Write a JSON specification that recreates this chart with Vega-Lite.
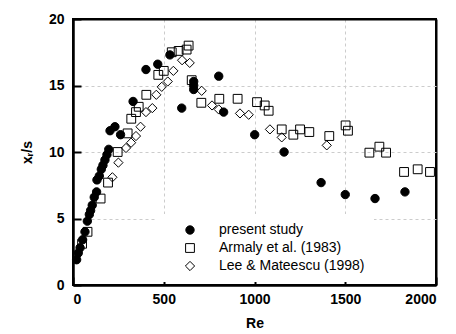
{
  "$schema": "https://vega.github.io/schema/vega-lite/v6.json",
  "width": 363,
  "height": 266,
  "autosize": "none",
  "padding": {"left": 73, "top": 19, "right": 20, "bottom": 49},
  "config": {
    "font": "Liberation Sans",
    "view": {"stroke": "black", "strokeWidth": 2},
    "legend": {
      "orient": "none",
      "legendX": 83,
      "legendY": 195,
      "fillColor": "white",
      "padding": 9,
      "labelFont": "Liberation Sans",
      "labelFontSize": 14,
      "labelColor": "black",
      "symbolStrokeWidth": 1,
      "symbolOffset": 18,
      "labelOffset": 22,
      "rowPadding": 4,
      "zindex": 3
    }
  },
  "data": {
    "values": [
      {"series": "present study", "Re": 20, "xs": 1.9},
      {"series": "present study", "Re": 29, "xs": 2.4},
      {"series": "present study", "Re": 39, "xs": 2.8},
      {"series": "present study", "Re": 53, "xs": 3.4},
      {"series": "present study", "Re": 66, "xs": 4.0},
      {"series": "present study", "Re": 79, "xs": 4.8},
      {"series": "present study", "Re": 90, "xs": 5.3},
      {"series": "present study", "Re": 97, "xs": 5.6},
      {"series": "present study", "Re": 106, "xs": 6.0},
      {"series": "present study", "Re": 117, "xs": 6.6},
      {"series": "present study", "Re": 130, "xs": 7.0},
      {"series": "present study", "Re": 132, "xs": 7.9},
      {"series": "present study", "Re": 145, "xs": 8.2},
      {"series": "present study", "Re": 156, "xs": 8.7},
      {"series": "present study", "Re": 165, "xs": 9.0},
      {"series": "present study", "Re": 176, "xs": 9.4},
      {"series": "present study", "Re": 187, "xs": 9.8},
      {"series": "present study", "Re": 197, "xs": 10.2},
      {"series": "present study", "Re": 204, "xs": 11.6},
      {"series": "present study", "Re": 231, "xs": 11.9},
      {"series": "present study", "Re": 262, "xs": 11.3},
      {"series": "present study", "Re": 331, "xs": 13.8},
      {"series": "present study", "Re": 402, "xs": 16.2},
      {"series": "present study", "Re": 467, "xs": 16.6},
      {"series": "present study", "Re": 534, "xs": 17.3},
      {"series": "present study", "Re": 599, "xs": 13.3},
      {"series": "present study", "Re": 665, "xs": 15.3},
      {"series": "present study", "Re": 665, "xs": 15.0},
      {"series": "present study", "Re": 665, "xs": 14.7},
      {"series": "present study", "Re": 803, "xs": 15.7},
      {"series": "present study", "Re": 830, "xs": 13.0},
      {"series": "present study", "Re": 1001, "xs": 11.3},
      {"series": "present study", "Re": 1163, "xs": 10.0},
      {"series": "present study", "Re": 1367, "xs": 7.7},
      {"series": "present study", "Re": 1500, "xs": 6.8},
      {"series": "present study", "Re": 1664, "xs": 6.5},
      {"series": "present study", "Re": 1829, "xs": 7.0},
      {"series": "Armaly et al. (1983)", "Re": 50, "xs": 3.1},
      {"series": "Armaly et al. (1983)", "Re": 80, "xs": 4.0},
      {"series": "Armaly et al. (1983)", "Re": 152, "xs": 6.5},
      {"series": "Armaly et al. (1983)", "Re": 193, "xs": 7.7},
      {"series": "Armaly et al. (1983)", "Re": 246, "xs": 10.0},
      {"series": "Armaly et al. (1983)", "Re": 301, "xs": 11.4},
      {"series": "Armaly et al. (1983)", "Re": 321, "xs": 12.5},
      {"series": "Armaly et al. (1983)", "Re": 347, "xs": 13.0},
      {"series": "Armaly et al. (1983)", "Re": 362, "xs": 13.4},
      {"series": "Armaly et al. (1983)", "Re": 404, "xs": 14.3},
      {"series": "Armaly et al. (1983)", "Re": 470, "xs": 15.8},
      {"series": "Armaly et al. (1983)", "Re": 500, "xs": 16.1},
      {"series": "Armaly et al. (1983)", "Re": 544, "xs": 17.5},
      {"series": "Armaly et al. (1983)", "Re": 582, "xs": 17.6},
      {"series": "Armaly et al. (1983)", "Re": 626, "xs": 17.7},
      {"series": "Armaly et al. (1983)", "Re": 637, "xs": 18.0},
      {"series": "Armaly et al. (1983)", "Re": 654, "xs": 15.4},
      {"series": "Armaly et al. (1983)", "Re": 707, "xs": 13.7},
      {"series": "Armaly et al. (1983)", "Re": 806, "xs": 14.0},
      {"series": "Armaly et al. (1983)", "Re": 907, "xs": 14.0},
      {"series": "Armaly et al. (1983)", "Re": 1014, "xs": 13.75},
      {"series": "Armaly et al. (1983)", "Re": 1056, "xs": 13.5},
      {"series": "Armaly et al. (1983)", "Re": 1078, "xs": 13.1},
      {"series": "Armaly et al. (1983)", "Re": 1150, "xs": 11.7},
      {"series": "Armaly et al. (1983)", "Re": 1214, "xs": 11.3},
      {"series": "Armaly et al. (1983)", "Re": 1251, "xs": 11.7},
      {"series": "Armaly et al. (1983)", "Re": 1302, "xs": 11.5},
      {"series": "Armaly et al. (1983)", "Re": 1412, "xs": 11.2},
      {"series": "Armaly et al. (1983)", "Re": 1502, "xs": 12.0},
      {"series": "Armaly et al. (1983)", "Re": 1515, "xs": 11.6},
      {"series": "Armaly et al. (1983)", "Re": 1633, "xs": 9.95},
      {"series": "Armaly et al. (1983)", "Re": 1688, "xs": 10.4},
      {"series": "Armaly et al. (1983)", "Re": 1725, "xs": 9.95},
      {"series": "Armaly et al. (1983)", "Re": 1824, "xs": 8.5},
      {"series": "Armaly et al. (1983)", "Re": 1899, "xs": 8.7},
      {"series": "Armaly et al. (1983)", "Re": 1967, "xs": 8.5},
      {"series": "Lee & Mateescu (1998)", "Re": 217, "xs": 8.1},
      {"series": "Lee & Mateescu (1998)", "Re": 250, "xs": 9.2},
      {"series": "Lee & Mateescu (1998)", "Re": 292, "xs": 10.3},
      {"series": "Lee & Mateescu (1998)", "Re": 320, "xs": 10.7},
      {"series": "Lee & Mateescu (1998)", "Re": 347, "xs": 11.2},
      {"series": "Lee & Mateescu (1998)", "Re": 372, "xs": 11.9},
      {"series": "Lee & Mateescu (1998)", "Re": 402, "xs": 13.0},
      {"series": "Lee & Mateescu (1998)", "Re": 437, "xs": 13.3},
      {"series": "Lee & Mateescu (1998)", "Re": 459, "xs": 14.3},
      {"series": "Lee & Mateescu (1998)", "Re": 489, "xs": 14.9},
      {"series": "Lee & Mateescu (1998)", "Re": 522, "xs": 15.3},
      {"series": "Lee & Mateescu (1998)", "Re": 553, "xs": 16.1},
      {"series": "Lee & Mateescu (1998)", "Re": 601, "xs": 16.9},
      {"series": "Lee & Mateescu (1998)", "Re": 643, "xs": 16.7},
      {"series": "Lee & Mateescu (1998)", "Re": 709, "xs": 14.6},
      {"series": "Lee & Mateescu (1998)", "Re": 766, "xs": 13.5},
      {"series": "Lee & Mateescu (1998)", "Re": 803, "xs": 13.2},
      {"series": "Lee & Mateescu (1998)", "Re": 920, "xs": 12.9},
      {"series": "Lee & Mateescu (1998)", "Re": 968, "xs": 12.8},
      {"series": "Lee & Mateescu (1998)", "Re": 1085, "xs": 11.7},
      {"series": "Lee & Mateescu (1998)", "Re": 1150, "xs": 11.1},
      {"series": "Lee & Mateescu (1998)", "Re": 1398, "xs": 10.5}
    ]
  },
  "mark": {"type": "point", "strokeWidth": 1, "opacity": 1},
  "encoding": {
    "x": {
      "field": "Re", "type": "quantitative",
      "scale": {"domain": [0, 2000], "nice": false},
      "axis": {"title": "Re", "format": "d", "values": [0, 500, 1000, 1500, 2000],
        "domainColor": "black", "domainWidth": 2,
        "tickColor": "black", "tickWidth": 2, "tickSize": -8,
        "gridColor": {"condition": {"test": "datum.value === 0 || datum.value === 2000", "value": "black"}, "value": "#cccccc"},
        "gridDash": {"condition": {"test": "datum.value === 0 || datum.value === 2000", "value": []}, "value": [3, 3]},
        "gridWidth": {"condition": {"test": "datum.value === 0 || datum.value === 2000", "value": 2}, "value": 1},
        "gridOpacity": 1,
        "labelFont": "Liberation Sans", "labelFontWeight": "bold", "labelFontSize": 14, "labelColor": "black", "labelPadding": 15,
        "titleFont": "Liberation Sans", "titleFontWeight": "bold", "titleFontSize": 14, "titleColor": "black", "titlePadding": 10}
    },
    "y": {
      "field": "xs", "type": "quantitative",
      "scale": {"domain": [0, 20], "nice": false},
      "axis": {"title": "xᵣ/s", "values": [0, 5, 10, 15, 20],
        "domainColor": "black", "domainWidth": 2,
        "tickColor": "black", "tickWidth": 2, "tickSize": -8,
        "gridColor": {"condition": {"test": "datum.value === 0 || datum.value === 20", "value": "black"}, "value": "#cccccc"},
        "gridDash": {"condition": {"test": "datum.value === 0 || datum.value === 20", "value": []}, "value": [3, 3]},
        "gridWidth": {"condition": {"test": "datum.value === 0 || datum.value === 20", "value": 2}, "value": 1},
        "gridOpacity": 1,
        "labelFont": "Liberation Sans", "labelFontWeight": "bold", "labelFontSize": 14, "labelColor": "black", "labelPadding": 17,
        "titleFont": "Liberation Sans", "titleFontWeight": "bold", "titleFontSize": 14, "titleColor": "black", "titlePadding": 14}
    },
    "shape": {
      "field": "series", "type": "nominal",
      "scale": {"domain": ["present study", "Armaly et al. (1983)", "Lee & Mateescu (1998)"], "range": ["circle", "square", "diamond"]},
      "legend": {"title": null}
    },
    "fill": {
      "field": "series", "type": "nominal",
      "scale": {"domain": ["present study", "Armaly et al. (1983)", "Lee & Mateescu (1998)"], "range": ["black", "transparent", "transparent"]},
      "legend": {"title": null}
    },
    "stroke": {
      "field": "series", "type": "nominal",
      "scale": {"domain": ["present study", "Armaly et al. (1983)", "Lee & Mateescu (1998)"], "range": ["black", "black", "black"]},
      "legend": {"title": null}
    },
    "size": {
      "field": "series", "type": "nominal",
      "scale": {"domain": ["present study", "Armaly et al. (1983)", "Lee & Mateescu (1998)"], "range": [70, 85, 50]},
      "legend": {"title": null}
    }
  }
}
